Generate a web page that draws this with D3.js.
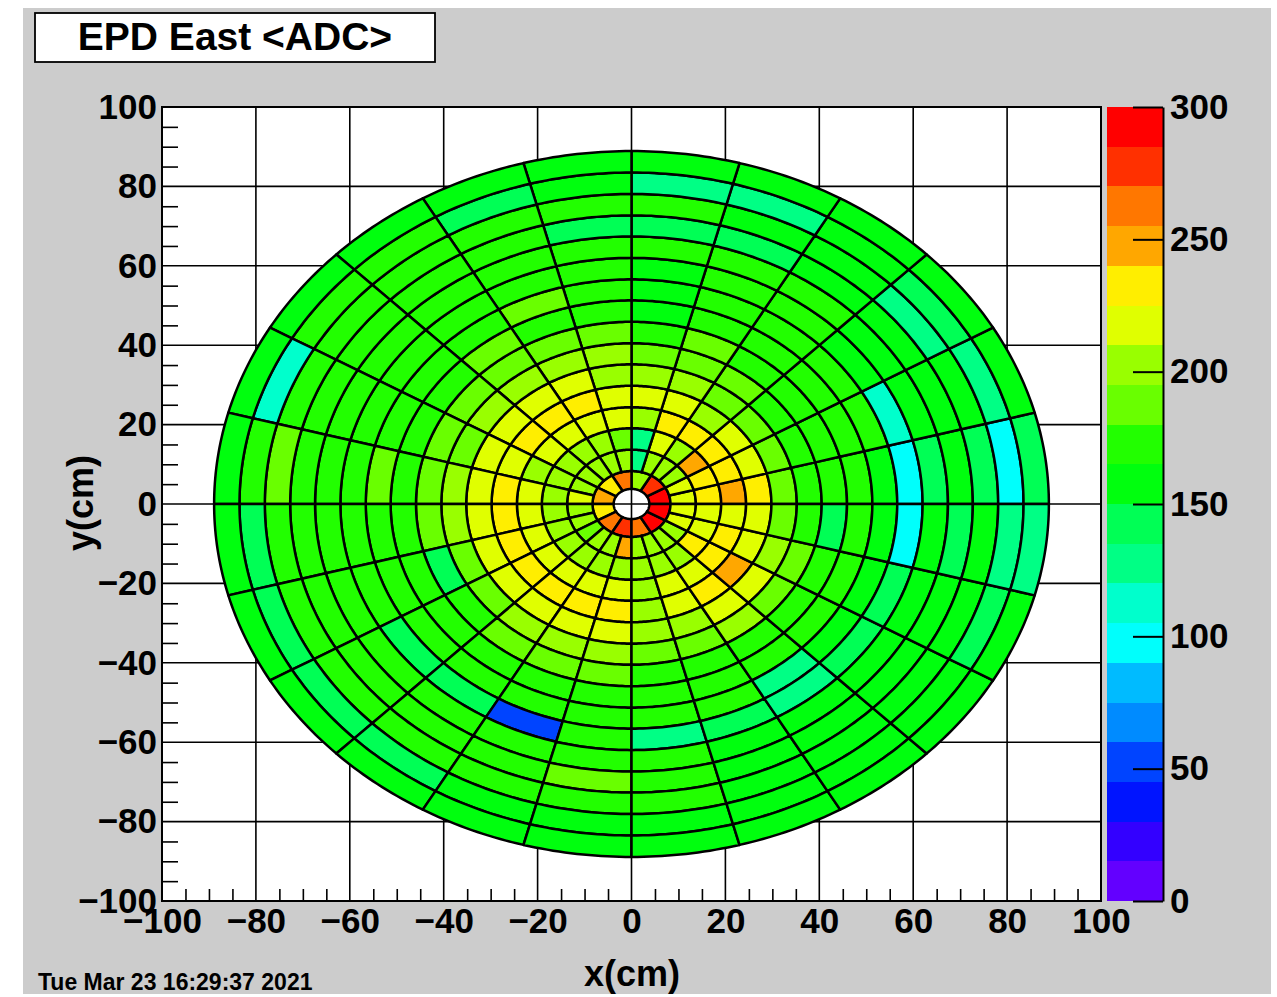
<!DOCTYPE html>
<html>
<head>
<meta charset="utf-8">
<script src="https://cdn.jsdelivr.net/npm/d3@7"></script>
<style>
  body { margin: 0; background: #fff; }
  svg text { font-family: "Liberation Sans", Arial, Helvetica, sans-serif; font-weight: bold; fill: #000; }
</style>
</head>
<body>
<svg id="chart" width="1277" height="997"></svg>
<script>
// EPD East, mean ADC per tile. Ring edges in cm, row 1 = 12 tiles of 30 deg,
// rows 2..16 = 24 tiles of 15 deg, counted counter-clockwise from +x.
const ringEdges = [3.8, 8.3, 13.7, 19.1, 24.4, 29.8, 35.2, 40.5, 45.9, 51.3, 56.6, 62.0, 67.4, 72.7, 78.1, 83.5, 88.9];

const row01 = [292, 278, 205, 262, 232, 248, 230, 262, 278, 262, 290, 292];
const row02 = [217, 212, 195, 205, 200, 127, 195, 198, 202, 198, 200, 210, 205, 198, 190, 198, 202, 247, 198, 195, 200, 205, 210, 215];
const row03 = [232, 228, 247, 200, 212, 127, 190, 200, 205, 200, 198, 200, 208, 205, 200, 205, 208, 198, 200, 205, 208, 225, 212, 215];
const row04 = [247, 230, 228, 228, 225, 205, 212, 214, 218, 214, 208, 214, 218, 214, 214, 222, 218, 212, 202, 214, 222, 230, 228, 214];
const row05 = [232, 217, 217, 200, 217, 212, 217, 232, 232, 225, 217, 232, 232, 225, 225, 232, 232, 232, 205, 217, 232, 247, 217, 217];
const row06 = [187, 190, 187, 190, 202, 202, 202, 217, 217, 217, 210, 217, 217, 210, 210, 217, 217, 217, 200, 205, 217, 217, 200, 190];
const row07 = [172, 178, 176, 185, 190, 190, 195, 200, 200, 195, 190, 195, 195, 190, 192, 196, 200, 200, 190, 190, 195, 188, 180, 175];
const row08 = [172, 172, 170, 175, 182, 178, 180, 185, 188, 182, 180, 183, 180, 142, 178, 180, 185, 182, 178, 176, 175, 170, 168, 142];
const row09 = [172, 170, 168, 170, 172, 160, 176, 176, 187, 174, 172, 175, 172, 170, 172, 170, 173, 172, 170, 168, 168, 166, 165, 168];
const row10 = [160, 165, 166, 168, 170, 162, 170, 186, 174, 170, 170, 187, 170, 168, 170, 168, 170, 170, 166, 165, 130, 162, 160, 162];
const row11 = [97, 115, 160, 165, 166, 162, 168, 170, 172, 168, 166, 170, 168, 166, 142, 142, 52, 165, 127, 140, 130, 140, 135, 97];
const row12 = [142, 160, 162, 165, 168, 165, 170, 172, 170, 168, 168, 172, 170, 168, 166, 165, 168, 168, 165, 164, 162, 160, 160, 158];
const row13 = [160, 162, 158, 160, 135, 142, 140, 170, 170, 168, 168, 172, 170, 168, 168, 166, 168, 187, 165, 164, 162, 160, 160, 140];
const row14 = [142, 160, 127, 160, 162, 170, 170, 172, 172, 170, 170, 187, 170, 168, 168, 165, 168, 168, 165, 164, 162, 160, 160, 158];
const row15 = [97, 127, 138, 162, 127, 127, 162, 140, 166, 165, 112, 165, 142, 142, 142, 142, 160, 162, 160, 160, 160, 160, 135, 127];
const row16 = [142, 158, 158, 158, 158, 158, 158, 160, 160, 160, 160, 158, 158, 158, 158, 158, 158, 158, 158, 158, 158, 158, 158, 127];
const outerRows = [row02, row03, row04, row05, row06, row07, row08, row09, row10, row11, row12, row13, row14, row15, row16];

// ROOT "pretty" palette, 20 contours from 0 to 300
const palette = ["#6300ff", "#3300ff", "#0014ff", "#0044ff", "#008bff", "#00bbff", "#00fffc", "#00ffcc", "#00ff85", "#00ff55",
                 "#00ff0e", "#22ff00", "#69ff00", "#99ff00", "#e0ff00", "#ffee00", "#ffa700", "#ff7700", "#ff3000", "#ff0000"];
const axisMajor = [-100, -80, -60, -40, -20, 0, 20, 40, 60, 80, 100];
const zMajor = [0, 50, 100, 150, 200, 250, 300];
const titleText = "EPD East <ADC>";
const dateText = "Tue Mar 23 16:29:37 2021";

const svg = d3.select("#chart");
const frame = { left: 162, right: 1101, top: 107, bottom: 901 };
const x = d3.scaleLinear().domain([-100, 100]).range([frame.left, frame.right]);
const y = d3.scaleLinear().domain([-100, 100]).range([frame.bottom, frame.top]);
const z = d3.scaleLinear().domain([0, 300]).range([frame.bottom, frame.top]);
const color = d3.scaleQuantize().domain([0, 300]).range(palette);

// canvas
svg.append("rect").attr("x", 23).attr("y", 8).attr("width", 1248).attr("height", 986).attr("fill", "#cccccc");
svg.append("rect").attr("x", frame.left).attr("y", frame.top)
    .attr("width", frame.right - frame.left).attr("height", frame.bottom - frame.top).attr("fill", "#fff");

// grid
const grid = svg.append("g").attr("stroke", "#000").attr("stroke-width", 1.6);
axisMajor.slice(1, -1).forEach(v => {
    grid.append("line").attr("x1", x(v)).attr("x2", x(v)).attr("y1", frame.top).attr("y2", frame.bottom);
    grid.append("line").attr("y1", y(v)).attr("y2", y(v)).attr("x1", frame.left).attr("x2", frame.right);
});

// tiles
function tilePath(r0, r1, a0, a1) {
    const n = 18, pts = [];
    for (let i = 0; i <= n; i++) {
        const t = (a0 + (a1 - a0) * i / n) * Math.PI / 180;
        pts.push([x(r1 * Math.cos(t)), y(r1 * Math.sin(t))]);
    }
    for (let i = n; i >= 0; i--) {
        const t = (a0 + (a1 - a0) * i / n) * Math.PI / 180;
        pts.push([x(r0 * Math.cos(t)), y(r0 * Math.sin(t))]);
    }
    return d3.line()(pts) + "Z";
}

const tiles = [];
row01.forEach((v, j) => tiles.push({ r0: ringEdges[0], r1: ringEdges[1], a0: j * 30, a1: j * 30 + 30, v }));
outerRows.forEach((row, k) => row.forEach((v, j) => tiles.push({
    r0: ringEdges[k + 1], r1: ringEdges[k + 2], a0: j * 15, a1: j * 15 + 15, v
})));

svg.append("g").selectAll("path").data(tiles).enter().append("path")
    .attr("d", d => tilePath(d.r0, d.r1, d.a0, d.a1))
    .attr("fill", d => color(d.v))
    .attr("stroke", "#000")
    .attr("stroke-width", 2.5)
    .attr("stroke-linejoin", "round");

// frame border
svg.append("rect").attr("x", frame.left).attr("y", frame.top)
    .attr("width", frame.right - frame.left).attr("height", frame.bottom - frame.top)
    .attr("fill", "none").attr("stroke", "#000").attr("stroke-width", 2);

// minor ticks
const minor = d3.range(-100, 101, 5).filter(v => v % 20 !== 0);
const xMinor = svg.append("g").attr("transform", `translate(0,${frame.bottom})`)
    .call(d3.axisBottom(x).tickValues(minor).tickSize(-12).tickFormat(""));
const yMinor = svg.append("g").attr("transform", `translate(${frame.left},0)`)
    .call(d3.axisLeft(y).tickValues(minor).tickSize(-16).tickFormat(""));
[xMinor, yMinor].forEach(g => {
    g.select(".domain").remove();
    g.selectAll("line").attr("stroke", "#000").attr("stroke-width", 1.6);
});

// tick labels
const xLab = svg.append("g").attr("transform", `translate(0,${frame.bottom})`)
    .call(d3.axisBottom(x).tickValues(axisMajor).tickSize(0).tickPadding(7));
const yLab = svg.append("g").attr("transform", `translate(${frame.left},0)`)
    .call(d3.axisLeft(y).tickValues(axisMajor).tickSize(0).tickPadding(5));
[xLab, yLab].forEach(g => {
    g.select(".domain").remove();
    g.selectAll("text").attr("font-size", 35).attr("font-family", null).attr("fill", "#000");
});

// palette
const bins = d3.range(20).map(i => [i * 15, i * 15 + 15]);
svg.append("g").selectAll("rect").data(bins).enter().append("rect")
    .attr("x", 1107).attr("width", 56)
    .attr("y", d => z(d[1])).attr("height", d => z(d[0]) - z(d[1]))
    .attr("fill", d => color(d[0] + 1))
    .attr("shape-rendering", "crispEdges");
const zAx = svg.append("g").attr("transform", "translate(1163,0)")
    .call(d3.axisRight(z).tickValues(zMajor).tickSizeInner(-30).tickSizeOuter(0).tickPadding(7));
zAx.select(".domain").attr("stroke", "#000").attr("stroke-width", 2);
zAx.selectAll("line").attr("stroke", "#000").attr("stroke-width", 2);
zAx.selectAll("text").attr("font-size", 35).attr("font-family", null).attr("fill", "#000");

// titles
svg.append("rect").attr("x", 35).attr("y", 13).attr("width", 400).attr("height", 49)
    .attr("fill", "#fff").attr("stroke", "#000").attr("stroke-width", 1.8);
svg.append("text").attr("x", 235).attr("y", 50).attr("text-anchor", "middle")
    .attr("font-size", 39).text(titleText);
svg.append("text").attr("x", 632).attr("y", 986).attr("text-anchor", "middle")
    .attr("font-size", 36).text("x(cm)");
svg.append("text").attr("transform", "translate(93,503) rotate(-90)").attr("text-anchor", "middle")
    .attr("font-size", 36).text("y(cm)");
svg.append("text").attr("x", 38).attr("y", 990).attr("font-size", 23).text(dateText);
</script>
</body>
</html>
